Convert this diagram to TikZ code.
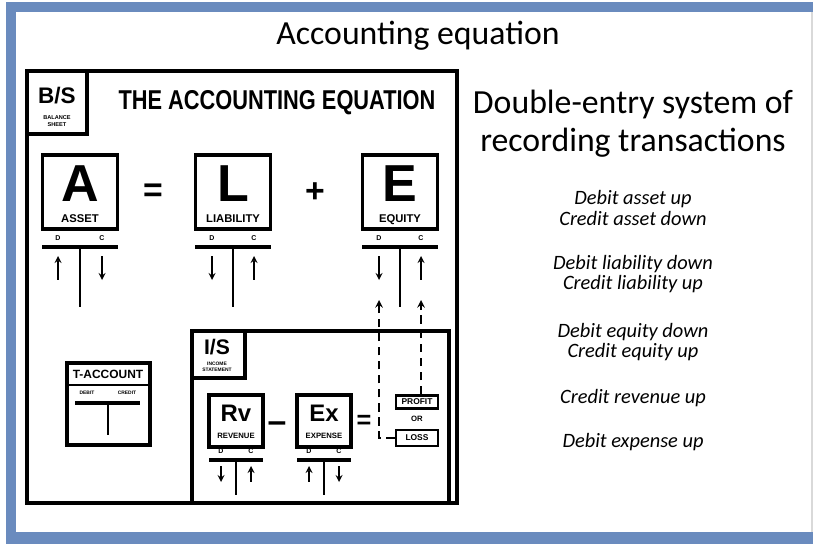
\documentclass[tikz,border=0pt]{standalone}
\usepackage{graphicx}
\usepackage{fontspec}
\setmainfont{Carlito}
\newfontfamily\comicfont{Liberation Sans}
\usetikzlibrary{positioning,arrows.meta}

\definecolor{frameblue}{HTML}{6A8BBE}

\begin{document}
\begin{tikzpicture}[>=stealth, x=0.025cm, y=-0.025cm,
  frame/.style={draw, line width=3pt},
  lbox/.style={draw, line width=2.2pt, inner sep=0pt},
  pbox/.style={draw, line width=1.8pt, inner sep=0pt,
    font=\comicfont\bfseries\fontsize{6}{6}\selectfont},
  bigletter/.style={inner sep=0pt, text height=26.5pt, text depth=0pt,
    font=\comicfont\bfseries\fontsize{37}{37}\selectfont},
  midletter/.style={inner sep=0pt, text height=12.2pt, text depth=0pt,
    font=\comicfont\bfseries\fontsize{17}{17}\selectfont},
  boxname/.style={inner sep=0pt, text height=5.8pt, text depth=0pt,
    font=\comicfont\bfseries\fontsize{8}{8}\selectfont},
  smallname/.style={inner sep=0pt, text height=4pt, text depth=0pt,
    font=\comicfont\bfseries\fontsize{5.5}{5.5}\selectfont},
  dclabel/.style={font=\comicfont\bfseries\fontsize{5}{5}\selectfont},
  sign/.style={font=\comicfont\bfseries\fontsize{24}{24}\selectfont},
  rule/.style={align=center, font=\itshape\fontsize{14.5}{14.6}\selectfont},
  dlink/.style={->, line width=1.4pt, dash pattern=on 6pt off 4pt}]

  % frame
  \path[use as bounding box, fill=white] (0,0) rectangle (813,544);
  \fill[frameblue] (6,2) rectangle (813,544);
  \fill[white] (16,12) rectangle (813,532);
  \fill[black!15] (811,12) rectangle (813,532);

  \node[font=\fontsize{24}{24}\selectfont] (title) at (418,36) {Accounting equation};

  % balance sheet
  \draw[frame] (27,71) rectangle (457,503);
  \draw[frame] (27,71) rectangle (87,134);
  \node[font=\comicfont\bfseries\fontsize{16}{16}\selectfont] (bs) at (57,96) {B/S};
  \node[align=center, font=\comicfont\bfseries\fontsize{4}{4.5}\selectfont] (bsname)
    at (57,121) {BALANCE\\SHEET};
  \node[font=\comicfont\bfseries\fontsize{15.5}{15.5}\selectfont] (bstitle) at (277,103)
    {\scalebox{1}[1.25]{THE ACCOUNTING EQUATION}};

  \node[lbox, minimum width=1.875cm, minimum height=1.85cm] (Abox) at (80,192) {};
  \node[bigletter] (Aletter) at (80,183) {A};
  \node[boxname] (Aname) at (80,218) {ASSET};
  \node[sign] (eq1) at (153,193) {=};
  \node[lbox, minimum width=1.875cm, minimum height=1.85cm] (Lbox) at (233,192) {};
  \node[bigletter] (Lletter) at (233,183) {L};
  \node[boxname] (Lname) at (233,218) {LIABILITY};
  \node[sign] (plus) at (315,193) {+};
  \node[lbox, minimum width=1.875cm, minimum height=1.85cm] (Ebox) at (400,192) {};
  \node[bigletter] (Eletter) at (400,183) {E};
  \node[boxname] (Ename) at (400,218) {EQUITY};

  % t-account key
  \draw[frame] (67,363) rectangle (150,445);
  \draw[line width=1pt] (67,385) -- (150,385);
  \node[font=\comicfont\bfseries\fontsize{8.5}{8.5}\selectfont] (tacc) at (108,374) {T-ACCOUNT};
  \node[font=\comicfont\bfseries\fontsize{3.5}{3.5}\selectfont] (debit) at (87,393) {DEBIT};
  \node[font=\comicfont\bfseries\fontsize{3.5}{3.5}\selectfont] (credit) at (127,393) {CREDIT};
  \draw[line width=3pt] (75,403) -- (140,403);
  \draw[line width=1.4pt] (108,403) -- (108,435);

  % income statement
  \draw[frame] (192,331) rectangle (449,503);
  \draw[frame] (192,331) rectangle (245,378);
  \node[font=\comicfont\bfseries\fontsize{15}{15}\selectfont] (is) at (217,347) {I/S};
  \node[align=center, font=\comicfont\bfseries\fontsize{3.5}{4}\selectfont] (isname)
    at (217,367) {INCOME\\STATEMENT};

  \node[lbox, minimum width=1.35cm, minimum height=1.3cm] (Rvbox) at (236,421) {};
  \node[midletter] (Rvletter) at (236,413) {Rv};
  \node[smallname] (Rvname) at (236,436) {REVENUE};
  \node[sign] (minus) at (277,427) {–};
  \node[sign, font=\comicfont\bfseries\fontsize{18}{18}\selectfont] (eq2) at (364,422) {=};
  \node[lbox, minimum width=1.35cm, minimum height=1.3cm] (Exbox) at (324,421) {};
  \node[midletter] (Exletter) at (324,413) {Ex};
  \node[smallname] (Exname) at (324,436) {EXPENSE};

  \node[pbox, minimum width=1.05cm, minimum height=0.33cm] (profit) at (417,402) {PROFIT};
  \node[smallname] (or) at (417,419) {OR};
  \node[pbox, minimum width=1.05cm, minimum height=0.4cm] (loss) at (417,438) {LOSS};

  \coordinate (pin-d) at (379,300);
  \coordinate (pin-c) at (421,300);
  \draw[dlink] (loss.west) -| (pin-d);
  \draw[dlink] (profit.north -| pin-c) -- (pin-c);

  % t-accounts
  \foreach \nm/\cx/\hw/\by/\sy/\off/\ta/\tb/\dl/\cl in
    {A/80/38/247/307/22/256/280/<-/->,
     L/233/38/247/307/21/256/280/->/<-,
     E/400/38/247/307/21/256/280/->/<-,
     Rv/236/27/460/495/15/466/482/->/<-,
     Ex/324/27/460/495/15/466/482/<-/->} {
    \draw[line width=3.5pt] (\cx-\hw,\by) -- (\cx+\hw,\by);
    \draw[line width=1.5pt] (\cx,\by) -- (\cx,\sy);
    \node[dclabel] (D-\nm) at (\cx-\off,\by-9) {D};
    \node[dclabel] (C-\nm) at (\cx+\off,\by-9) {C};
    \draw[\dl, line width=1.2pt] (\cx-\off,\ta) -- (\cx-\off,\tb);
    \draw[\cl, line width=1.2pt] (\cx+\off,\ta) -- (\cx+\off,\tb);
  }

  % right column
  \node[align=center, font=\fontsize{24}{27}\selectfont] (heading) at (633,124)
    {Double-entry system of\\recording transactions};
  \node[rule] (asset) at (633,208) {Debit asset up\\Credit asset down};
  \node[rule] (liab) at (633,274) {Debit liability down\\Credit liability up};
  \node[rule] (equity) at (633,342) {Debit equity down\\Credit equity up};
  \node[rule] (revenue) at (633,398) {Credit revenue up};
  \node[rule] (expense) at (633,442) {Debit expense up};
\end{tikzpicture}
\end{document}
